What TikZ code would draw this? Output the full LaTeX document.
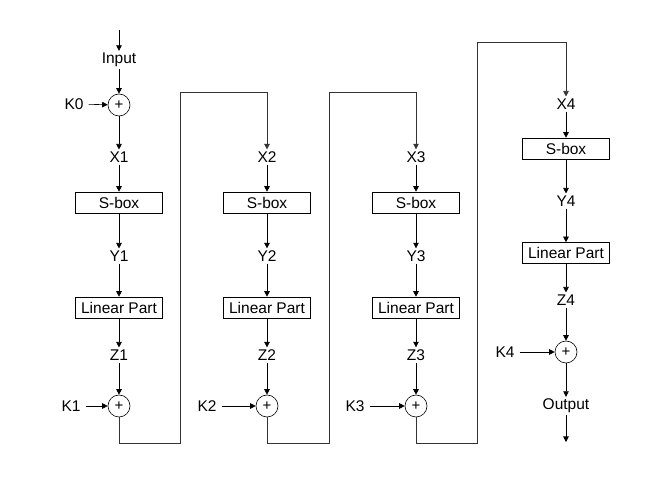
\documentclass[tikz,border=0pt]{standalone}
\usepackage{fontspec}
\setmainfont{Liberation Sans}
\usetikzlibrary{arrows.meta}
\begin{document}
\begin{tikzpicture}[x=1pt,y=-1pt,
  every node/.style={font=\fontsize{15.5}{18}\selectfont},
  lbl/.style={inner sep=2pt},
  klbl/.style={inner xsep=5pt, inner ysep=2pt},
  blk/.style={draw, line width=0.6pt, minimum width=87pt, minimum height=21pt, inner sep=1pt},
  xor/.style={draw, circle, line width=0.6pt, minimum size=22pt, inner sep=0pt, font=\fontsize{15}{17}\selectfont},
  arr/.style={line width=0.6pt, -{Triangle[length=5.5pt,width=5.5pt]}},
  route/.style={line width=0.6pt, black!80}]
\useasboundingbox (0,0) rectangle (657,478);
% column 1
\coordinate (in0) at (119,30);
\node[lbl] (inp) at (119,60) {Input};
\node[xor] (c0) at (119,105) {+};
\node[klbl] (k0) at (74,104) {K0};
\node[lbl] (x1) at (119,157) {X1};
\node[blk] (s1) at (119,202.5) {S-box};
\node[lbl] (y1) at (119,256) {Y1};
\node[blk] (l1) at (119,307.5) {Linear Part};
\node[lbl] (z1) at (119,355) {Z1};
\node[xor] (c1) at (119,406) {+};
\node[klbl] (k1) at (71,406) {K1};
% column 2
\node[lbl] (x2) at (267,157) {X2};
\node[blk] (s2) at (267,202.5) {S-box};
\node[lbl] (y2) at (267,256) {Y2};
\node[blk] (l2) at (267,307.5) {Linear Part};
\node[lbl] (z2) at (267,355) {Z2};
\node[xor] (c2) at (267,406) {+};
\node[klbl] (k2) at (207,406) {K2};
% column 3
\node[lbl] (x3) at (416,157) {X3};
\node[blk] (s3) at (416,202.5) {S-box};
\node[lbl] (y3) at (416,256) {Y3};
\node[blk] (l3) at (416,307.5) {Linear Part};
\node[lbl] (z3) at (416,355) {Z3};
\node[xor] (c3) at (416,406) {+};
\node[klbl] (k3) at (355,406) {K3};
% column 4
\node[lbl] (x4) at (566,104) {X4};
\node[blk] (s4) at (566,148.5) {S-box};
\node[lbl] (y4) at (566,201) {Y4};
\node[blk] (l4) at (566,253) {Linear Part};
\node[lbl] (z4) at (566,300) {Z4};
\node[xor] (c4) at (566,352) {+};
\node[klbl] (k4) at (505,352) {K4};
\node[lbl] (out) at (566,406) {Output};
\coordinate (out0) at (566,442);
% arrows
\draw[arr] (in0) -- (inp);
\draw[arr] (inp) -- (c0);
\draw[arr] (k0) -- (c0);
\draw[arr] (c0) -- (x1);
\foreach \i in {1,2,3} {
  \draw[arr] (x\i) -- (s\i);
  \draw[arr] (s\i) -- (y\i);
  \draw[arr] (y\i) -- (l\i);
  \draw[arr] (l\i) -- (z\i);
  \draw[arr] (z\i) -- (c\i);
  \draw[arr] (k\i) -- (c\i);
}
\draw[arr] (x4) -- (s4);
\draw[arr] (s4) -- (y4);
\draw[arr] (y4) -- (l4);
\draw[arr] (l4) -- (z4);
\draw[arr] (z4) -- (c4);
\draw[arr] (k4) -- (c4);
\draw[arr] (c4) -- (out);
\draw[arr] (out) -- (out0);
% routes between rounds
\coordinate (b1) at (180,443); \coordinate (t1) at (180,92);
\coordinate (b2) at (329,443); \coordinate (t2) at (329,92);
\coordinate (b3) at (477,443); \coordinate (t3) at (477,42);
\draw[route] (c1) |- (b1) -- (t1);
\draw[arr,route] (t1) -| (x2);
\draw[route] (c2) |- (b2) -- (t2);
\draw[arr,route] (t2) -| (x3);
\draw[route] (c3) |- (b3) -- (t3);
\draw[arr,route] (t3) -| (x4);
\end{tikzpicture}
\end{document}
